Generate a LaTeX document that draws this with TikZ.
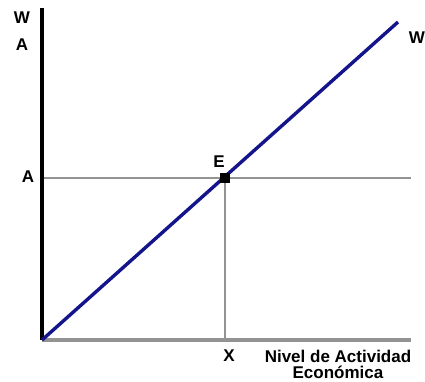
\documentclass[tikz,border=0pt]{standalone}
\usepackage{fontspec}
\setmainfont{Liberation Sans}
\begin{document}
\begin{tikzpicture}[x=1pt,y=-1pt,
  lbl/.style={font=\fontsize{17}{17}\selectfont\bfseries, inner sep=0pt},
  grayline/.style={draw=gray!85, line width=2.2pt},
  thingray/.style={draw=gray!85, line width=1.2pt}]
\useasboundingbox (0,0) rectangle (425,382);
\coordinate (O) at (42,340);
\coordinate (Ytop) at (42,8);
\coordinate (Xend) at (411,340);
\coordinate (Aleft) at (42,178);
\coordinate (Aright) at (411,178);
\coordinate (Xfoot) at (225,340);
\coordinate (Wend) at (398,22);
\node[draw=black, fill=black, minimum size=9pt, inner sep=0pt] (E) at (225,178) {};
\draw[grayline] (Aleft) -- (Aright);
\draw[thingray] (E) -- (Xfoot);
\draw[draw=gray!85, line width=3.2pt] (O) -- (Xend);
\draw[black, line width=3.4pt] (Ytop) -- (O);
\draw[draw={rgb,255:red,20;green,20;blue,140}, line width=3.4pt] (O) -- (Wend);
\node[draw=black, fill=black, minimum size=9pt, inner sep=0pt] at (E) {};
\node[lbl] (lW) at (22,18) {W};
\node[lbl] (lA) at (22,45) {A};
\node[lbl] (lA2) at (28,177) {A};
\node[lbl] (lE) at (219,162) {E};
\node[lbl] (lW2) at (417,38) {W};
\node[lbl] (lX) at (229,356) {X};
\node[lbl, align=center] (lN) at (338,364) {Nivel de Actividad\\[-1pt]Económica};
\end{tikzpicture}
\end{document}
